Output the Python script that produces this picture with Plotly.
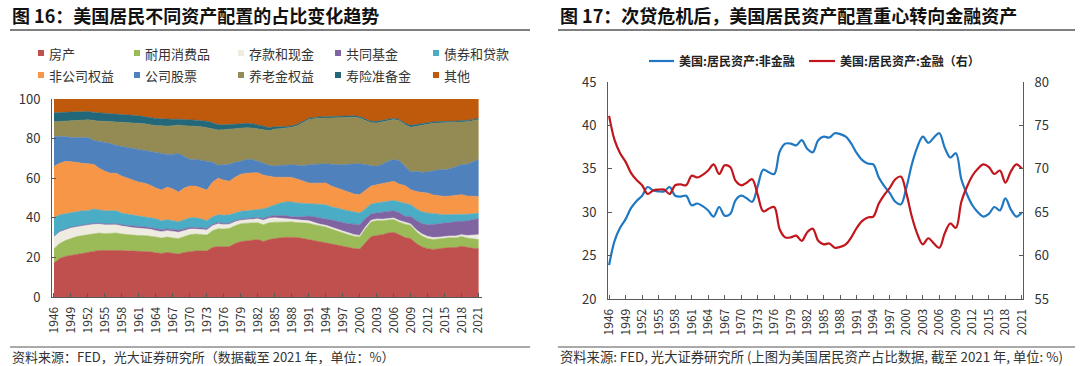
import plotly.graph_objects as go

W, H = 1080, 366
FONT = "Noto Sans CJK SC"

years = list(range(1946, 2022))
tick_years = list(range(1946, 2022, 3))

# ---- Figure 16: stacked shares (%), bottom to top ----
house = [17.2,19.5,20.5,21.0,21.5,22.0,22.5,23.2,23.5,23.5,
         23.5,23.7,23.5,23.3,23.2,23.0,23.2,22.8,22.3,22.0,
         22.5,22.0,21.7,22.5,23.0,23.2,23.2,23.3,25.0,25.5,
         25.3,25.5,27.0,28.0,28.3,28.6,29.0,28.0,29.0,29.5,
         29.8,30.2,30.1,30.0,29.5,29.0,28.3,27.8,27.3,26.8,
         26.2,25.6,25.0,24.5,24.2,27.5,30.5,31.1,31.5,32.3,
         32.7,31.5,30.0,29.5,27.0,25.3,24.4,24.0,24.2,24.7,
         25.0,25.0,25.6,25.0,24.6,24.4]
durables = [7.3,7.5,8.0,8.5,9.0,9.0,9.0,8.8,8.8,8.5,
            8.5,8.6,8.3,8.2,8.1,8.0,7.8,8.0,8.0,7.8,
            7.8,7.8,7.8,8.0,8.5,8.6,8.3,8.0,8.5,9.0,
            9.0,9.2,9.0,9.0,9.0,8.8,8.5,8.5,8.5,8.3,
            8.0,7.8,7.8,7.6,7.9,8.2,8.2,8.0,8.1,7.5,
            7.1,6.8,6.5,6.2,6.1,7.0,7.4,7.5,7.0,6.6,
            6.4,6.3,6.8,6.7,6.0,5.5,5.1,5.0,5.1,5.1,
            5.0,4.9,5.0,4.8,4.7,4.6]
deposits = [6.0,6.0,5.5,5.5,5.0,5.0,5.0,4.8,4.6,4.5,
            4.5,4.2,4.0,3.8,3.7,3.7,3.5,3.4,3.2,3.2,
            3.2,3.2,3.2,3.0,2.8,2.5,2.5,2.5,2.5,2.5,
            2.2,2.1,2.0,1.8,1.7,1.9,2.0,2.3,2.3,2.2,
            2.0,1.7,1.5,1.4,1.3,1.3,1.1,0.9,0.8,0.8,
            0.9,0.9,0.9,0.8,0.8,0.8,0.8,0.8,0.8,0.8,
            0.8,0.8,0.8,0.7,0.9,1.0,1.1,1.0,0.9,0.8,
            0.8,0.9,0.9,1.2,1.8,2.5]
mutual_funds = [0.2,0.2,0.2,0.2,0.2,0.3,0.3,0.3,0.3,0.4,
                0.5,0.5,0.6,0.7,0.8,0.9,0.9,0.9,1.0,1.0,
                0.9,1.0,1.0,0.9,0.8,0.8,0.8,0.8,0.6,0.6,
                0.6,0.5,0.5,0.5,0.5,0.5,0.6,0.8,0.9,1.1,
                1.4,1.4,1.1,1.5,1.8,2.4,2.8,3.3,3.4,3.8,
                4.0,4.2,4.6,5.3,5.4,4.3,3.2,3.0,3.4,3.6,
                3.7,4.0,3.2,3.8,4.7,5.3,5.9,6.6,6.9,6.8,
                6.8,7.3,6.7,7.4,8.0,8.0]
bonds = [9.3,8.3,7.8,7.3,7.3,7.2,6.7,7.4,6.8,6.6,
         6.5,6.5,5.9,5.8,5.7,5.1,5.1,4.9,5.0,4.5,
         4.6,4.5,4.3,4.6,4.9,4.9,4.7,3.9,3.9,3.9,
         4.2,4.2,4.0,4.0,4.0,4.2,4.1,4.9,4.8,5.5,
         6.3,6.9,7.5,7.0,6.8,6.1,6.4,6.7,7.0,6.6,
         6.8,6.6,6.5,6.2,5.9,4.9,5.1,5.1,5.1,5.0,
         5.2,5.4,6.7,5.9,5.9,5.9,5.9,5.4,4.7,4.2,
         4.0,3.7,3.4,3.4,2.9,2.9]
noncorp_equity = [26.0,26.0,26.5,25.8,25.0,24.0,23.8,22.5,21.0,20.0,
                  19.0,19.0,18.7,18.0,17.5,17.3,17.0,16.5,15.5,15.5,
                  16.5,16.0,15.0,16.0,16.0,16.0,15.5,15.5,17.5,18.5,
                  17.7,17.0,18.0,18.7,19.0,18.8,18.6,17.0,15.5,13.9,
                  13.0,12.5,12.4,12.0,11.2,10.6,10.7,10.9,11.0,10.5,
                  10.0,10.1,9.5,9.0,9.3,9.5,9.0,9.2,9.5,9.7,
                  9.6,9.0,8.8,7.6,8.8,9.8,10.1,9.5,9.2,9.2,
                  9.4,9.4,10.1,9.2,8.8,8.4]
corp_equity = [15.0,13.5,12.5,12.2,12.5,13.0,13.2,12.0,13.5,14.8,
               15.0,14.0,15.0,15.7,16.0,16.5,16.5,16.8,18.0,18.5,
               16.5,17.5,19.5,16.0,13.5,13.5,14.0,14.5,10.0,6.5,
               7.8,8.5,7.5,6.5,7.0,6.7,5.7,6.0,5.5,5.5,
               6.0,6.0,6.4,7.0,7.8,9.2,9.5,9.6,9.7,11.0,
               11.8,12.6,14.0,15.3,15.6,12.8,10.3,9.3,9.7,10.5,
               11.0,11.8,9.7,8.9,10.2,10.2,10.6,12.3,13.3,13.5,
               13.8,14.6,15.1,16.0,17.2,18.6]
pension = [7.5,7.5,7.8,8.5,8.5,8.8,9.0,10.0,10.3,10.4,
           11.0,12.0,12.3,12.5,13.0,13.3,13.5,13.7,13.5,14.0,
           14.3,14.5,14.3,15.5,16.8,16.8,17.0,17.0,17.0,17.8,
           17.7,17.7,17.0,16.8,16.0,15.8,16.5,17.0,17.5,18.8,
           18.5,18.8,18.9,20.0,21.7,22.8,23.0,23.1,23.1,23.4,
           23.7,23.6,23.6,23.5,23.1,22.2,21.7,21.9,21.5,20.8,
           20.2,20.2,21.0,22.6,22.8,23.6,24.3,23.9,23.6,23.6,
           23.2,22.4,21.6,21.5,21.0,20.2]
life_insurance = [4.5,4.7,4.5,4.3,4.5,4.2,4.2,4.2,4.2,4.1,
                  4.2,4.0,4.0,4.0,3.8,3.7,3.5,3.5,3.7,3.5,
                  3.5,3.3,3.0,3.2,3.2,3.0,3.0,3.3,3.0,2.7,
                  2.5,2.3,2.2,2.2,2.2,2.2,2.0,1.8,1.5,1.2,
                  1.0,0.8,0.7,0.7,0.7,0.7,0.7,0.7,0.7,0.7,
                  0.7,0.7,0.7,0.7,0.7,0.7,0.7,0.8,0.8,0.7,
                  0.7,0.7,0.7,1.0,0.9,0.9,0.7,0.7,0.7,0.7,
                  0.7,0.6,0.7,0.7,0.7,0.7]
other = [7.0,6.8,6.7,6.7,6.5,6.5,6.3,6.8,7.0,7.2,
         7.3,7.5,7.7,8.0,8.2,8.5,9.0,9.5,9.8,10.0,
         10.2,10.2,10.2,10.3,10.5,10.7,11.0,11.2,12.0,13.0,
         13.0,13.0,12.8,12.5,12.3,12.5,13.0,13.7,14.5,14.0,
         14.0,14.0,13.7,13.0,11.3,9.7,9.3,9.1,9.0,9.0,
         9.0,9.0,8.8,8.7,9.0,10.3,11.3,11.3,10.7,10.0,
         9.7,10.3,12.3,13.3,12.8,12.5,12.0,11.7,11.5,11.5,
         11.4,11.3,11.0,10.9,10.4,9.8]

stack_names = ["房产", "耐用消费品", "存款和现金", "共同基金", "债券和贷款",
               "非公司权益", "公司股票", "养老金权益", "寿险准备金", "其他"]
stack_values = [house, durables, deposits, mutual_funds, bonds,
                noncorp_equity, corp_equity, pension, life_insurance, other]
stack_colors = ["#C0504D", "#9BBB59", "#EEECE1", "#8064A2", "#4BACC6",
                "#F79646", "#4F81BD", "#948A54", "#22687A", "#BF590C"]

# ---- Figure 17: non-financial (left axis) vs financial (right axis), % ----
nonfinancial = [23.9,26.7,28.2,29.2,30.5,31.3,31.9,32.9,32.5,32.4,
                32.4,32.9,31.9,31.8,31.9,30.8,31.0,30.7,30.2,29.5,
                30.6,29.6,29.8,31.4,31.9,31.6,31.2,33.0,34.9,34.6,
                34.4,37.0,37.9,37.9,37.7,38.3,37.3,36.9,38.3,38.7,
                38.6,39.1,39.0,38.7,37.9,36.8,36.0,35.6,35.5,34.0,
                33.0,32.2,31.2,30.9,32.8,35.5,37.5,38.7,38.0,38.6,
                39.1,37.4,36.3,36.8,33.8,32.1,30.8,30.0,29.5,29.8,
                30.6,30.2,31.6,30.3,29.5,30.0]
financial = [76.1,73.3,71.8,70.8,69.5,68.7,68.1,67.1,67.5,67.6,
             67.6,67.1,68.1,68.2,68.1,69.2,69.0,69.3,69.8,70.5,
             69.4,70.4,70.2,68.6,68.1,68.4,68.8,67.0,65.1,65.4,
             65.6,63.0,62.1,62.1,62.3,61.7,62.7,63.1,61.7,61.3,
             61.4,60.9,61.0,61.3,62.1,63.2,64.0,64.4,64.5,66.0,
             67.0,67.8,68.8,69.1,67.2,64.5,62.5,61.3,62.0,61.4,
             60.9,62.6,63.7,63.2,66.2,67.9,69.2,70.0,70.5,70.2,
             69.4,69.8,68.4,69.7,70.5,70.0]
line_names = ["美国:居民资产:非金融", "美国:居民资产:金融（右）"]
line_colors = ["#1F78C1", "#C0161C"]


def px(x):
    return x / W


def py(y):
    return 1 - y / H


fig = go.Figure()

for name, vals, col in zip(stack_names, stack_values, stack_colors):
    fig.add_trace(go.Scatter(
        x=years, y=vals, name=name, mode="lines", stackgroup="one",
        line=dict(width=0.6, color=col), fillcolor=col,
        xaxis="x", yaxis="y", showlegend=False, hoverinfo="x+y+name"))

fig.add_trace(go.Scatter(
    x=years, y=nonfinancial, name=line_names[0], mode="lines",
    line=dict(color=line_colors[0], width=2.2, shape="spline", smoothing=1.0),
    xaxis="x2", yaxis="y3", showlegend=False))
fig.add_trace(go.Scatter(
    x=years, y=financial, name=line_names[1], mode="lines",
    line=dict(color=line_colors[1], width=2.2, shape="spline", smoothing=1.0),
    xaxis="x2", yaxis="y4", showlegend=False))

AX = "#595959"
TXT = "#333333"
tick_text = [str(y) for y in tick_years]

xcommon = dict(tickmode="array", tickvals=tick_years, ticktext=tick_text,
               tickangle=-90, ticks="inside", ticklen=4, tickcolor=AX,
               showline=True, linecolor=AX, linewidth=1, showgrid=False,
               zeroline=False, tickfont=dict(family=FONT, size=12, color=TXT),
               ticklabelstandoff=4, automargin=False)
ycommon = dict(ticks="inside", ticklen=4, tickcolor=AX, showline=True,
               linecolor=AX, linewidth=1, showgrid=False, zeroline=False,
               tickfont=dict(family=FONT, size=13, color=TXT),
               ticklabelstandoff=8, automargin=False)

fig.update_layout(
    width=W, height=H, margin=dict(l=0, r=0, t=0, b=0, pad=0, autoexpand=False),
    paper_bgcolor="white", plot_bgcolor="white", showlegend=False,
    font=dict(family=FONT, color=TXT),
    xaxis=dict(domain=[px(52), px(482)], range=[1945.65, 2021.6], anchor="y", **xcommon),
    yaxis=dict(domain=[py(297), py(99)], range=[0, 100], dtick=20, anchor="x", **ycommon),
    yaxis2=dict(domain=[py(297), py(99)], range=[0, 100], dtick=20, anchor="x",
                overlaying="y", side="right", **ycommon),
    xaxis2=dict(domain=[px(608), px(1023)], range=[1945.8, 2021.2], anchor="y3", **xcommon),
    yaxis3=dict(domain=[py(299), py(82)], range=[20, 45], dtick=5, anchor="x2", **ycommon),
    yaxis4=dict(domain=[py(299), py(82)], range=[55, 80], dtick=5, anchor="x2",
                overlaying="y3", side="right", **ycommon),
)

shapes = []
annotations = []

# titles and rules
for x0, x1, title in [(10, 530, "图 16：美国居民不同资产配置的占比变化趋势"),
                      (558, 1075, "图 17：次贷危机后，美国居民资产配置重心转向金融资产")]:
    annotations.append(dict(x=px(x0), y=py(15), xref="paper", yref="paper",
                            xanchor="left", yanchor="middle", showarrow=False,
                            text=title, font=dict(family=FONT, size=18, color="#111111", weight=700)))
    shapes.append(dict(type="line", xref="paper", yref="paper", x0=px(x0), x1=px(x1),
                       y0=py(30), y1=py(30), line=dict(color="#555555", width=1.5)))
    shapes.append(dict(type="line", xref="paper", yref="paper", x0=px(x0), x1=px(x1),
                       y0=py(347), y1=py(347), line=dict(color="#555555", width=1)))

annotations.append(dict(x=px(10), y=py(356), xref="paper", yref="paper", xanchor="left",
                        yanchor="middle", showarrow=False,
                        text="资料来源：FED，光大证券研究所（数据截至 2021 年，单位：%）",
                        font=dict(family=FONT, size=13, color=TXT)))
annotations.append(dict(x=px(558), y=py(356), xref="paper", yref="paper", xanchor="left",
                        yanchor="middle", showarrow=False,
                        text="资料来源: FED, 光大证券研究所 (上图为美国居民资产占比数据, 截至 2021 年, 单位: %)",
                        font=dict(family=FONT, size=13.3, color=TXT)))

# legend for figure 16 (2 rows x 5 columns)
col_x = [41, 137, 241, 338, 436]
row_y = [53, 75]
for i, (name, col) in enumerate(zip(stack_names, stack_colors)):
    r, c = divmod(i, 5)
    x, y = col_x[c], row_y[r]
    shapes.append(dict(type="rect", xref="paper", yref="paper",
                       x0=px(x - 3), x1=px(x + 3), y0=py(y + 3), y1=py(y - 3),
                       fillcolor=col, line=dict(width=0)))
    annotations.append(dict(x=px(x + 6), y=py(y), xref="paper", yref="paper",
                            xanchor="left", yanchor="middle", showarrow=False,
                            text=name, font=dict(family=FONT, size=13, color=TXT)))

# legend for figure 17
for (lx0, lx1, tx), name, col in zip([(649, 674, 677), (809, 835, 838)], line_names, line_colors):
    shapes.append(dict(type="line", xref="paper", yref="paper", x0=px(lx0), x1=px(lx1),
                       y0=py(61), y1=py(61), line=dict(color=col, width=2.2)))
    annotations.append(dict(x=px(tx), y=py(61), xref="paper", yref="paper",
                            xanchor="left", yanchor="middle", showarrow=False,
                            text=name, font=dict(family=FONT, size=12, color="#222222", weight=600)))

fig.update_layout(shapes=shapes, annotations=annotations)
fig.write_html("out.html", config={"displayModeBar": False},
               post_script="document.body.style.margin='0';document.body.style.padding='0';")
